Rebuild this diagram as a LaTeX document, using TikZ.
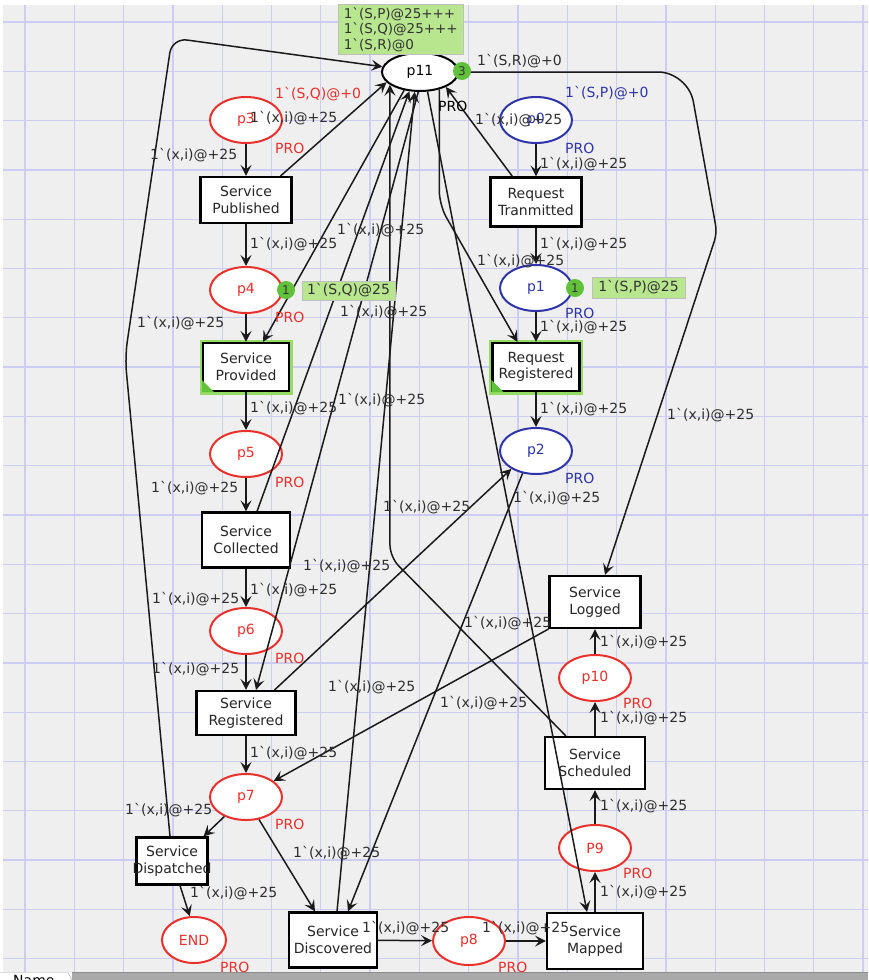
\documentclass[tikz,border=0pt]{standalone}
\usepackage{fontspec}
\newfontfamily\cpn{DejaVu Sans}
\usetikzlibrary{arrows.meta,shapes.geometric}
\definecolor{bg}{HTML}{EFEFEF}
\definecolor{gridc}{HTML}{CCCCF4}
\definecolor{pred}{HTML}{E8312C}
\definecolor{pblue}{HTML}{2F35A8}
\definecolor{tokg}{HTML}{62C13A}
\definecolor{markg}{HTML}{B8E68E}
\definecolor{arcc}{HTML}{1A1A1A}
\definecolor{labc}{HTML}{2E2E2E}
\definecolor{glow}{HTML}{96DC64}
\definecolor{barg}{HTML}{A9A9A9}
\newcommand\arclab{1`(x,i)@+25}
\tikzset{
  every node/.append style={font=\cpn\fontsize{14}{16.5}\selectfont},
  place/.style={ellipse, draw=#1, line width=2pt, fill=white, minimum width=72pt, minimum height=46pt, inner sep=0pt, text=#1},
  trans/.style={rectangle, draw=black, line width=2.1pt, fill=white, inner sep=0pt},
  ttext/.style={align=center, text=black!85, inner sep=0pt},
  cpnarc/.style={draw=arcc, line width=1.5pt, -{Stealth[length=11pt,width=11pt,inset=4.5pt]}},
  lab/.style={anchor=west, text=labc, inner sep=0pt},
  pro/.style={anchor=west, inner sep=0pt, text=#1},
  tok/.style={circle, fill=tokg, minimum size=18pt, inner sep=0pt, text=black!80, font=\cpn\fontsize{12}{14}\selectfont},
  markbox/.style={fill=markg, draw=black!25, line width=0.6pt, inner sep=0pt, text=black!80},
}
\begin{document}
\begin{tikzpicture}[x=1pt,y=-1pt]
\useasboundingbox (0,0) rectangle (868,980);
\fill[white] (0,0) rectangle (868,980);
\fill[bg] (3,5) rectangle (868,972);
\foreach \i in {0,...,17} \draw[gridc, line width=1.3pt] ({25+49.3*\i},5) -- ({25+49.3*\i},972);
\foreach \j in {0,...,19} \draw[gridc, line width=1.3pt] (3,{22+49.3*\j}) -- (868,{22+49.3*\j});
% bottom bar
\fill[barg] (72,972) rectangle (868,980);
\draw[black!45] (72,972.5) -- (868,972.5);
\fill[white] (0,972) rectangle (72,980);
\draw[black!40] (0,972.5) -- (68,972.5) -- (72,980);
\begin{scope}
\clip (0,972) rectangle (72,980);
\node[anchor=north west, inner sep=0pt] (tabname) at (13,975) {Name};
\end{scope}

% places
\node[place=black, minimum width=76pt, minimum height=38pt] (p11) at (420,72) {p11};
\node[place=pred] (p3) at (246,120) {p3};
\node[place=pred] (p4) at (246,290) {p4};
\node[place=pred] (p5) at (246,454) {p5};
\node[place=pred] (p6) at (246,631) {p6};
\node[place=pred] (p7) at (246,797) {p7};
\node[place=pred, minimum width=64pt] (pend) at (194,940) {END};
\node[place=pred, minimum height=48pt] (p8) at (469,941) {p8};
\node[place=pblue] (p0) at (536,120) {p0};
\node[place=pblue] (p1) at (536,288) {p1};
\node[place=pblue] (p2) at (536,451) {p2};
\node[place=pred] (p10) at (595,678) {p10};
\node[place=pred] (p9) at (595,848) {P9};

% transitions
\node[trans, minimum width=91pt, minimum height=46pt] (spub) at (246,200) {};
\node[ttext] (spubt) at (spub) {Service\\Published};
\node[trans, draw=glow, line width=5pt, minimum width=88pt, minimum height=50pt] (sprovg) at (246,367) {};
\node[trans, minimum width=86pt, minimum height=48pt] (sprov) at (246,367) {};
\fill[tokg] (sprov.south west) -- ++(12,0) -- ++(-12,-12) -- cycle;
\node[ttext] (sprovt) at (sprov) {Service\\Provided};
\node[trans, minimum width=88pt, minimum height=55pt] (scoll) at (246,540) {};
\node[ttext] (scollt) at (scoll) {Service\\Collected};
\node[trans, minimum width=99pt, minimum height=44pt] (sreg) at (246,713) {};
\node[ttext] (sregt) at (sreg) {Service\\Registered};
\node[trans, minimum width=71pt, minimum height=47pt] (sdisp) at (172,861) {};
\node[ttext] (sdispt) at (sdisp) {Service\\Dispatched};
\node[trans, minimum width=88pt, minimum height=55pt] (sdisc) at (333,940) {};
\node[ttext] (sdisct) at (sdisc) {Service\\Discovered};
\node[trans, minimum width=96pt, minimum height=56pt] (smap) at (595,941) {};
\node[ttext] (smapt) at (smap) {Service\\Mapped};
\node[trans, minimum width=100pt, minimum height=52pt] (ssched) at (595,763) {};
\node[ttext] (sschedt) at (ssched) {Service\\Scheduled};
\node[trans, minimum width=91pt, minimum height=52pt] (slog) at (595,602) {};
\node[ttext] (slogt) at (slog) {Service\\Logged};
\node[trans, minimum width=91pt, minimum height=49pt] (rtran) at (536,202) {};
\node[ttext] (rtrant) at (rtran) {Request\\Tranmitted};
\node[trans, draw=glow, line width=5pt, minimum width=89pt, minimum height=50pt] (rregg) at (536,367) {};
\node[trans, minimum width=87pt, minimum height=48pt] (rreg) at (536,367) {};
\fill[tokg] (rreg.south west) -- ++(12,0) -- ++(-12,-12) -- cycle;
\node[ttext] (rregt) at (rreg) {Request\\Registered};

% arcs along chains
\draw[cpnarc] (p3) -- (spub);
\draw[cpnarc] (spub) -- (p4);
\draw[cpnarc] (p4) -- (sprov);
\draw[cpnarc] (sprov) -- (p5);
\draw[cpnarc] (p5) -- (scoll);
\draw[cpnarc] (scoll) -- (p6);
\draw[cpnarc] (p6) -- (sreg);
\draw[cpnarc] (sreg) -- (p7);
\draw[cpnarc] (p7.222) -- ([xshift=-5pt]sdisp.north east);
\draw[cpnarc] ([xshift=8pt]sdisp.south) -- (pend.100);
\draw[cpnarc] (p7.300) -- ([xshift=-18pt]sdisc.north);
\draw[cpnarc] (sdisc) -- (p8);
\draw[cpnarc] (p8) -- (smap);
\draw[cpnarc] (smap) -- (p9);
\draw[cpnarc] (p9) -- (ssched);
\draw[cpnarc] (ssched) -- (p10);
\draw[cpnarc] (p10) -- (slog);
\draw[cpnarc] (p0) -- (rtran);
\draw[cpnarc] (rtran) -- (p1);
\draw[cpnarc] (p1) -- (rreg);
\draw[cpnarc] (rreg) -- (p2);

% arcs with p11
\draw[cpnarc] ([xshift=23pt]rtran.north west) -- (p11.330);
\draw[cpnarc, rounded corners=14pt] (p11.318) -- (p11.318 |- 0,205) -- ([xshift=26pt]rreg.north west);
\draw[cpnarc] (p11.291) -- ([xshift=-8pt]smap.north);
\draw[cpnarc] (p11.229) -- ([xshift=17pt]sprov.north);
\draw[cpnarc] (p11.265) -- ([xshift=10pt]sreg.north);
\draw[cpnarc] ([xshift=11pt]scoll.north) -- (p11.241);
\draw[cpnarc] ([xshift=4pt]sdisc.north) -- (p11.255);
\draw[cpnarc] ([xshift=-12pt]spub.north east) -- (p11.197);
\draw[cpnarc, rounded corners=12pt] ([xshift=22pt]ssched.north west) -- (p11.203 |- 0,557) -- (p11.203);
\draw[cpnarc, rounded corners=15pt] ([xshift=-2pt]sdisp.north) -- (125,357) -- (172,38) -- (p11.172);
\draw[cpnarc, rounded corners=30pt] (p11.east) -- (688,72) [rounded corners=8pt] -- (717,233) -- ([xshift=10pt]slog.north);
\draw[cpnarc] (slog.south west) -- (p7.30);
\draw[cpnarc] ([xshift=-22pt]sreg.north east) -- (p2.216);
\draw[cpnarc] (p2.239) -- ([xshift=15pt]sdisc.north);

% tokens and markings
\node[markbox, minimum width=125pt, minimum height=50pt, anchor=north west, align=left, font=\cpn\fontsize{13.5}{15.5}\selectfont] (m11) at (338,4) {1`(S,P)@25+++\\1`(S,Q)@25+++\\1`(S,R)@0};
\node[tok] (t11) at (462,71) {3};
\node[markbox, minimum width=93pt, minimum height=19pt] (m4) at (348.5,290.5) {1`(S,Q)@25};
\node[tok] (t4) at (286,290) {1};
\node[markbox, minimum width=93pt, minimum height=21pt] (m1) at (638.5,287.5) {1`(S,P)@25};
\node[tok] (t1) at (575,288) {1};

% PRO labels
\node[pro=black] (pr11) at (438,106) {PRO};
\node[pro=pred] (pr3) at (275,148) {PRO};
\node[pro=pred] (pr4) at (275,317) {PRO};
\node[pro=pred] (pr5) at (275,482) {PRO};
\node[pro=pred] (pr6) at (275,658) {PRO};
\node[pro=pred] (pr7) at (275,824) {PRO};
\node[pro=pred] (prend) at (220,967) {PRO};
\node[pro=pred] (pr8) at (498,967) {PRO};
\node[pro=pblue] (pr0) at (565,148) {PRO};
\node[pro=pblue] (pr1) at (565,313) {PRO};
\node[pro=pblue] (pr2) at (565,478) {PRO};
\node[pro=pred] (pr10) at (623,703) {PRO};
\node[pro=pred] (pr9) at (623,873) {PRO};

% special arc labels
\node[pro=pred] (lsq) at (275,94) {1`(S,Q)@+0};
\node[pro=labc] (lsr) at (477,61) {1`(S,R)@+0};
\node[pro=pblue] (lsp) at (565,93) {1`(S,P)@+0};

% arc labels
\foreach \n/\x/\y in {a1/150/155, a2/250/118, a3/250/244, a4/337/230, a5/137/323, a6/340/312, a7/250/408, a8/338/400, a9/151/488, a10/383/507, a11/303/566, a12/250/590, a13/152/599, a14/152/669, a15/328/687, a16/440/703, a17/464/623, a18/513/498, a19/250/753, a20/125/810, a21/293/853, a22/190/893, a23/362/928, a24/482/928, a25/475/120, a26/540/164, a27/540/244, a28/477/261, a29/540/327, a30/540/409, a31/667/415, a32/600/642, a33/600/718, a34/600/806, a35/600/892}
  \node[lab] (\n) at (\x,\y) {\arclab};
\end{tikzpicture}
\end{document}
